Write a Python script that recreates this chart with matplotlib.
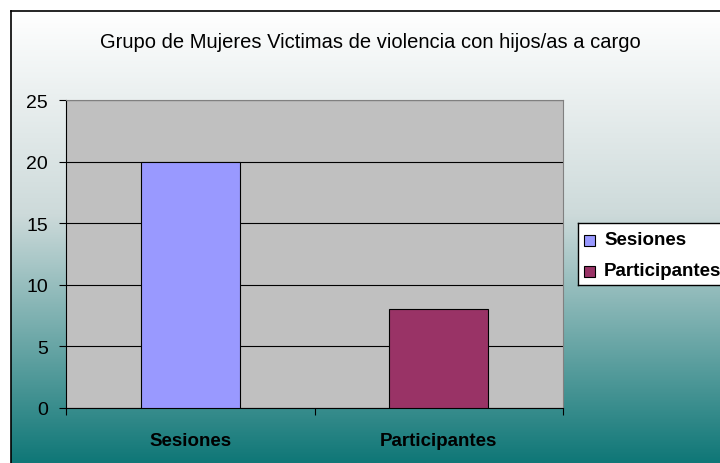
import numpy as np
import matplotlib
matplotlib.use("Agg")
import matplotlib.pyplot as plt
from matplotlib.colors import LinearSegmentedColormap
from matplotlib.patches import Rectangle

plt.rcParams['font.family'] = ['Liberation Sans', 'DejaVu Sans']

categories = ['Sesiones', 'Participantes']
values = [20, 8]
bar_colors = ['#9999FF', '#993366']
y_ticks = [0, 5, 10, 15, 20, 25]
title = 'Grupo de Mujeres Victimas de violencia con hijos/as a cargo'

W, H = 720, 464
fig = plt.figure(figsize=(W / 100, H / 100), dpi=100)
fig.patch.set_facecolor('white')

# chart area background with white -> teal gradient
bg = fig.add_axes([11 / W, 0, 1 - 11 / W, (H - 12) / H])
cmap = LinearSegmentedColormap.from_list(
    'bg', [(0, '#FFFFFF'), (0.45, '#CDDADA'), (1, '#0F7777')])
grad = np.linspace(0, 1, 256).reshape(-1, 1)
bg.imshow(grad, aspect='auto', cmap=cmap, extent=[0, 1, 0, 1], origin='upper')
bg.set_xlim(0, 1)
bg.set_ylim(0, 1)
bg.set_xticks([])
bg.set_yticks([])
for s in ['right', 'bottom']:
    bg.spines[s].set_visible(False)
for s in ['left', 'top']:
    bg.spines[s].set_color('black')
    bg.spines[s].set_linewidth(1.2)

fig.text(370 / W, 1 - 43 / H, title, ha='center', va='center', fontsize=14.5)

# plot area
ax = fig.add_axes([66 / W, (H - 409) / H, (563 - 66) / W, (409 - 101) / H])
ax.set_facecolor('#C0C0C0')
x = np.arange(len(categories))
bars = ax.bar(x, values, width=0.4, color=bar_colors, edgecolor='black',
              linewidth=0.8, zorder=3)
ax.set_xlim(-0.5, len(categories) - 0.5)
ax.set_ylim(0, 25)
ax.set_yticks(y_ticks)
ax.set_yticklabels([str(t) for t in y_ticks], fontsize=14)
ax.yaxis.grid(True, color='black', linewidth=0.8, zorder=1)
ax.set_axisbelow(True)

ax.set_xticks(np.arange(len(categories) + 1) - 0.5)
ax.set_xticklabels([])
ax.set_xticks(x, minor=True)
ax.set_xticklabels(categories, minor=True, fontsize=13.5, fontweight='bold')
ax.tick_params(axis='x', which='minor', length=0, pad=17)
ax.tick_params(axis='x', which='major', length=5, direction='out', color='black')
ax.tick_params(axis='y', length=5, direction='out', color='black', pad=8)
ax.spines['top'].set_color('#808080')
ax.spines['right'].set_color('#808080')
ax.spines['left'].set_color('black')
ax.spines['bottom'].set_color('black')

# legend box
leg_ax = fig.add_axes([578 / W, (H - 286) / H, 1 - 578 / W + 0.05, (286 - 224) / H])
leg_ax.set_xlim(0, 1)
leg_ax.set_ylim(0, 1)
leg_ax.set_facecolor('white')
leg_ax.set_xticks([])
leg_ax.set_yticks([])
for s in leg_ax.spines.values():
    s.set_color('black')
    s.set_linewidth(1)
leg_h = 286 - 224
leg_w = leg_ax.get_position().width * W
for i, (name, c) in enumerate(zip(categories, bar_colors)):
    yc = 1 - (17 + 31 * i) / leg_h
    leg_ax.add_patch(Rectangle((6 / leg_w, yc - 5.5 / leg_h), 11 / leg_w, 11 / leg_h,
                               facecolor=c, edgecolor='black', linewidth=0.8))
    leg_ax.text(26 / leg_w, yc, name, va='center', ha='left', fontsize=13.5,
                fontweight='bold')

fig.savefig('out.png', dpi=100)
